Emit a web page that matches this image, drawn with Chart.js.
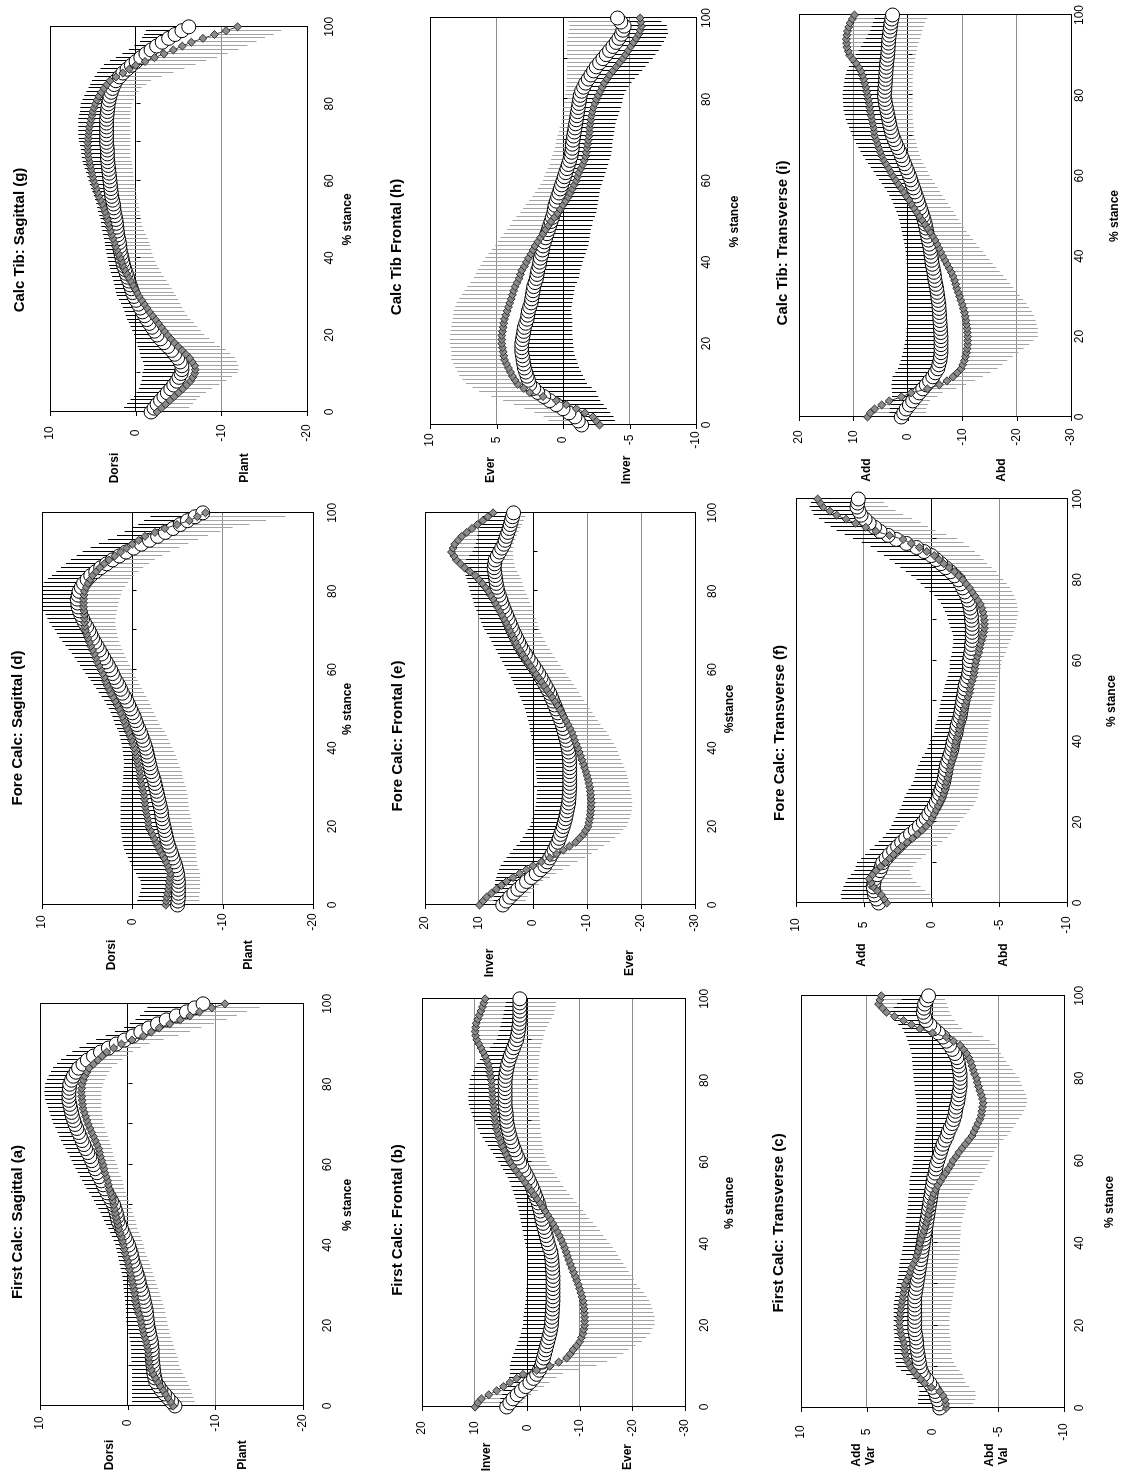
<!DOCTYPE html>
<html>
<head>
<meta charset="utf-8">
<title>Segment angles over stance</title>
<script src="https://cdn.jsdelivr.net/npm/chart.js@4.4.1/dist/chart.umd.min.js"></script>
<style>
  html, body { margin: 0; padding: 0; background: #fff; overflow: hidden; }
  #fig { position: absolute; left: 0; top: 0; width: 1479px; height: 1128px;
         transform-origin: 0 0; transform: translateY(1479px) rotate(-90deg); }
  #fig canvas { position: absolute; }
</style>
</head>
<body>
<div id="fig"></div>
<script>
// % stance, one sample per percent
const stance = [0,1,2,3,4,5,6,7,8,9,10,11,12,13,14,15,16,17,18,19,20,21,22,23,24,25,26,27,28,29,30,31,32,33,34,35,36,37,38,39,40,41,42,43,44,45,46,47,48,49,50,51,52,53,54,55,56,57,58,59,60,61,62,63,64,65,66,67,68,69,70,71,72,73,74,75,76,77,78,79,80,81,82,83,84,85,86,87,88,89,90,91,92,93,94,95,96,97,98,99,100];

// axis ranges: [min, max, step]
const sagAxis = [-20, 10, 10];
const wideAxis = [-30, 20, 10];
const narrowAxis = [-10, 10, 5];

// First Calc: Sagittal (a)
const aCirc = [-5.4,-5.0,-4.6,-4.2,-3.8,-3.5,-3.2,-3.1,-3.0,-2.95,-2.9,-2.85,-2.8,-2.8,-2.8,-2.75,-2.7,-2.6,-2.5,-2.4,-2.3,-2.25,-2.2,-2.15,-2.1,-2.0,-1.9,-1.8,-1.7,-1.55,-1.4,-1.3,-1.2,-1.05,-0.9,-0.75,-0.6,-0.5,-0.4,-0.25,-0.1,0.1,0.3,0.5,0.7,0.9,1.1,1.2,1.3,1.45,1.6,1.85,2.1,2.35,2.6,2.8,3.0,3.25,3.5,3.7,3.9,4.1,4.3,4.55,4.8,5.0,5.2,5.4,5.6,5.8,6.0,6.15,6.3,6.4,6.5,6.6,6.7,6.7,6.7,6.65,6.6,6.4,6.2,5.9,5.6,5.1,4.6,3.9,3.1,2.2,1.3,0.35,-0.6,-1.5,-2.4,-3.4,-4.4,-5.55,-6.7,-7.65,-8.6];
const aDiam = [-5.2,-4.9,-4.6,-4.3,-4.0,-3.7,-3.4,-3.15,-2.9,-2.7,-2.5,-2.45,-2.4,-2.35,-2.3,-2.2,-2.1,-1.95,-1.8,-1.7,-1.6,-1.5,-1.4,-1.25,-1.1,-1.0,-0.9,-0.85,-0.8,-0.7,-0.6,-0.5,-0.4,-0.3,-0.2,-0.1,0.0,0.15,0.3,0.4,0.5,0.6,0.7,0.85,1.0,1.1,1.2,1.3,1.4,1.5,1.6,1.7,1.8,1.95,2.1,2.2,2.3,2.45,2.6,2.7,2.8,2.95,3.1,3.2,3.3,3.5,3.7,3.9,4.1,4.3,4.5,4.65,4.8,4.95,5.1,5.15,5.2,5.25,5.3,5.25,5.2,5.05,4.9,4.65,4.4,3.9,3.4,2.9,2.4,1.6,0.7,-0.5,-1.8,-2.7,-3.6,-4.8,-6.0,-7.1,-8.2,-9.6,-11.1];
const aCircSd = [4.9,4.5,4.1,3.7,3.3,3.0,2.7,2.6,2.5,2.45,2.4,2.4,2.4,2.4,2.4,2.4,2.4,2.4,2.4,2.4,2.4,2.4,2.4,2.35,2.3,2.25,2.2,2.15,2.1,2.0,1.9,1.85,1.8,1.75,1.7,1.65,1.6,1.6,1.6,1.55,1.5,1.5,1.5,1.5,1.5,1.55,1.6,1.7,1.8,1.9,2.0,2.0,2.0,2.05,2.1,2.15,2.2,2.2,2.2,2.25,2.3,2.3,2.3,2.3,2.3,2.35,2.4,2.4,2.4,2.45,2.5,2.5,2.5,2.55,2.6,2.65,2.7,2.75,2.8,2.8,2.8,2.8,2.8,2.85,2.9,2.95,3.0,3.1,3.2,3.3,3.4,3.25,3.1,2.95,2.8,3.15,3.5,4.15,4.8,5.4,6.0];
const aDiamSd = [2.6,2.75,2.9,3.05,3.2,3.3,3.4,3.4,3.4,3.4,3.4,3.35,3.3,3.2,3.1,3.05,3.0,3.0,3.0,3.0,3.0,3.0,3.0,3.05,3.1,3.05,3.0,2.9,2.8,2.75,2.7,2.65,2.6,2.55,2.5,2.45,2.4,2.35,2.3,2.3,2.3,2.25,2.2,2.15,2.1,2.1,2.1,2.05,2.0,1.95,1.9,1.85,1.8,1.75,1.7,1.7,1.7,1.65,1.6,1.6,1.6,1.55,1.5,1.5,1.5,1.55,1.6,1.65,1.7,1.7,1.7,1.8,1.9,2.0,2.1,2.15,2.2,2.25,2.3,2.35,2.4,2.45,2.5,2.55,2.6,2.7,2.8,2.9,3.0,3.1,3.2,3.6,4.0,4.4,4.8,5.05,5.3,5.35,5.4,5.45,5.5];

// First Calc: Frontal (b)
const bCirc = [3.9,3.3,2.7,1.9,1.1,0.3,-0.5,-1.2,-1.8,-2.3,-2.7,-2.9,-3.1,-3.3,-3.5,-3.7,-3.9,-4.1,-4.3,-4.45,-4.6,-4.65,-4.7,-4.75,-4.8,-4.85,-4.9,-4.9,-4.9,-4.9,-4.9,-4.9,-4.9,-4.85,-4.8,-4.75,-4.7,-4.6,-4.5,-4.25,-4.0,-3.8,-3.6,-3.4,-3.2,-3.0,-2.8,-2.65,-2.5,-2.3,-2.1,-1.8,-1.5,-1.2,-0.9,-0.55,-0.2,0.2,0.6,1.0,1.4,1.75,2.1,2.4,2.7,2.95,3.2,3.4,3.6,3.75,3.9,3.95,4.0,4.1,4.2,4.2,4.2,4.2,4.2,4.2,4.2,4.1,4.0,3.85,3.7,3.45,3.2,2.9,2.6,2.3,2.0,1.85,1.7,1.6,1.5,1.45,1.4,1.4,1.4,1.4,1.4];
const bDiam = [9.9,9.4,8.7,7.3,5.8,4.5,3.3,2.0,0.8,-1.8,-4.3,-6.0,-7.5,-8.2,-8.7,-9.4,-10.0,-10.3,-10.6,-10.75,-10.9,-10.9,-10.9,-10.85,-10.8,-10.7,-10.6,-10.4,-10.2,-9.95,-9.7,-9.4,-9.1,-8.8,-8.5,-8.2,-7.9,-7.65,-7.4,-7.1,-6.8,-6.45,-6.1,-5.7,-5.3,-4.85,-4.4,-3.9,-3.4,-2.9,-2.4,-1.85,-1.3,-0.75,-0.2,0.4,1.0,1.6,2.2,2.75,3.3,3.7,4.1,4.45,4.8,5.1,5.4,5.6,5.8,5.95,6.1,6.2,6.3,6.35,6.4,6.5,6.6,6.65,6.7,6.75,6.8,6.95,7.1,7.25,7.4,7.7,8.0,8.4,8.8,9.2,9.6,9.8,9.9,9.8,9.7,9.4,9.1,8.8,8.5,8.25,8.0];
const bCircSd = [1.5,1.95,2.4,2.85,3.3,3.75,4.2,4.65,5.1,5.55,6.0,6.0,6.0,5.9,5.8,5.7,5.6,5.55,5.5,5.45,5.4,5.4,5.4,5.35,5.3,5.25,5.2,5.15,5.1,5.05,5.0,4.95,4.9,4.85,4.8,4.7,4.6,4.55,4.5,4.45,4.4,4.35,4.3,4.25,4.2,4.15,4.1,4.1,4.1,4.1,4.1,4.05,4.0,3.95,3.9,3.9,3.9,3.95,4.0,4.05,4.1,4.25,4.4,4.6,4.8,5.05,5.3,5.55,5.8,6.0,6.2,6.4,6.6,6.75,6.9,6.95,7.0,6.95,6.9,6.8,6.7,6.5,6.3,6.1,5.9,5.55,5.2,4.85,4.5,4.15,3.8,3.7,3.6,3.5,3.4,3.25,3.1,2.95,2.8,2.65,2.5];
const bDiamSd = [9.0,8.7,8.4,8.1,7.8,7.65,7.5,7.55,7.6,8.25,8.9,9.2,9.5,10.05,10.6,11.2,11.8,12.3,12.8,13.05,13.3,13.3,13.3,13.15,13.0,12.8,12.6,12.3,12.0,11.55,11.1,10.9,10.7,10.5,10.3,10.1,9.9,9.65,9.4,9.15,8.9,8.65,8.4,8.15,7.9,7.65,7.4,7.3,7.2,7.1,7.0,6.9,6.8,6.75,6.7,6.7,6.7,6.75,6.8,6.9,7.0,7.15,7.3,7.5,7.7,7.9,8.1,8.2,8.3,8.4,8.5,8.55,8.6,8.6,8.6,8.65,8.7,8.75,8.8,8.85,8.9,9.05,9.2,9.4,9.6,9.95,10.3,10.85,11.4,12.0,12.6,12.95,13.3,13.6,13.9,14.05,14.2,14.05,13.9,13.75,13.6];

// First Calc: Transverse (c)
const cCirc = [-0.55,-0.5,-0.4,-0.3,-0.2,0.0,0.2,0.45,0.7,0.85,0.95,1.0,1.05,1.1,1.15,1.2,1.2,1.25,1.3,1.35,1.35,1.35,1.35,1.35,1.35,1.35,1.35,1.35,1.3,1.25,1.2,1.15,1.1,1.05,1.0,0.95,0.9,0.85,0.8,0.75,0.7,0.65,0.6,0.55,0.5,0.45,0.4,0.35,0.3,0.25,0.2,0.15,0.1,0.05,0.0,-0.05,-0.1,-0.2,-0.25,-0.3,-0.4,-0.5,-0.6,-0.7,-0.8,-0.95,-1.1,-1.2,-1.35,-1.5,-1.6,-1.7,-1.75,-1.8,-1.9,-1.95,-2.0,-2.05,-2.1,-2.1,-2.1,-2.1,-2.05,-2.0,-1.95,-1.85,-1.7,-1.5,-1.3,-1.05,-0.8,-0.45,-0.1,0.2,0.5,0.6,0.7,0.65,0.6,0.45,0.3];
const cDiam = [-1.05,-1.0,-0.95,-0.8,-0.55,0.1,0.6,0.9,1.2,1.45,1.7,1.85,2.0,2.05,2.1,2.15,2.2,2.3,2.4,2.45,2.5,2.5,2.5,2.45,2.4,2.35,2.3,2.25,2.2,2.15,2.1,1.95,1.8,1.7,1.6,1.45,1.3,1.2,1.1,1.0,0.95,0.85,0.75,0.65,0.55,0.45,0.35,0.3,0.2,0.15,0.1,0.0,-0.1,-0.25,-0.4,-0.6,-0.8,-1.0,-1.2,-1.4,-1.55,-1.8,-2.0,-2.25,-2.5,-2.75,-3.0,-3.15,-3.3,-3.45,-3.6,-3.7,-3.75,-3.8,-3.85,-3.8,-3.7,-3.6,-3.5,-3.4,-3.35,-3.2,-3.1,-3.0,-2.9,-2.75,-2.6,-2.35,-2.1,-1.6,-1.05,0.0,0.95,1.6,2.2,2.9,3.5,3.8,4.1,4.0,3.9];
const cCircSd = [1.75,1.6,1.5,1.35,1.2,1.1,1.0,1.15,1.3,1.55,1.8,1.8,1.8,1.8,1.8,1.75,1.7,1.65,1.6,1.6,1.6,1.6,1.6,1.6,1.6,1.6,1.55,1.5,1.5,1.5,1.5,1.5,1.5,1.5,1.55,1.55,1.55,1.5,1.5,1.5,1.5,1.5,1.5,1.5,1.55,1.6,1.6,1.6,1.6,1.6,1.65,1.7,1.7,1.7,1.75,1.8,1.8,1.8,1.8,1.8,1.85,1.9,2.0,2.1,2.2,2.3,2.4,2.5,2.6,2.7,2.8,2.9,2.95,3.0,3.1,3.2,3.3,3.4,3.45,3.5,3.55,3.55,3.55,3.5,3.5,3.4,3.3,3.2,3.1,2.95,2.8,2.6,2.4,2.4,2.4,2.45,2.5,2.3,2.1,1.9,1.7];
const cDiamSd = [1.9,2.1,2.3,2.5,2.7,2.9,3.1,3.3,3.5,3.5,3.5,3.5,3.5,3.5,3.5,3.55,3.6,3.65,3.7,3.75,3.8,3.8,3.8,3.8,3.8,3.8,3.8,3.8,3.8,3.8,3.8,3.7,3.6,3.55,3.5,3.4,3.3,3.25,3.2,3.1,3.05,2.95,2.9,2.8,2.7,2.7,2.65,2.7,2.7,2.7,2.7,2.7,2.75,2.8,2.8,2.8,2.8,2.8,2.8,2.8,2.8,2.75,2.7,2.65,2.6,2.65,2.7,2.8,2.85,2.9,3.0,3.1,3.2,3.3,3.35,3.4,3.4,3.35,3.3,3.3,3.25,3.1,3.0,2.85,2.7,2.65,2.6,2.65,2.7,2.75,2.8,3.0,3.2,3.55,3.9,4.35,4.8,5.0,5.2,4.95,4.7];

// Fore Calc: Sagittal (d)
const dCirc = [-5.0,-5.05,-5.1,-5.1,-5.1,-5.1,-5.1,-5.05,-5.0,-4.9,-4.8,-4.65,-4.5,-4.35,-4.2,-4.05,-3.9,-3.8,-3.7,-3.6,-3.5,-3.4,-3.3,-3.25,-3.2,-3.1,-3.0,-2.9,-2.8,-2.7,-2.6,-2.5,-2.4,-2.25,-2.1,-2.0,-1.9,-1.8,-1.7,-1.6,-1.5,-1.35,-1.2,-1.05,-0.9,-0.7,-0.5,-0.35,-0.2,0.0,0.2,0.4,0.6,0.85,1.1,1.3,1.5,1.75,2.0,2.2,2.4,2.65,2.9,3.15,3.4,3.65,3.9,4.15,4.4,4.6,4.8,5.05,5.3,5.5,5.7,5.85,6.0,6.05,6.1,6.0,5.9,5.65,5.4,5.0,4.6,4.05,3.5,2.85,2.2,1.45,0.7,-0.15,-1.0,-1.9,-2.8,-3.65,-4.5,-5.3,-6.1,-6.95,-7.8];
const dDiam = [-3.7,-3.75,-3.8,-3.9,-4.0,-4.05,-4.1,-4.15,-4.2,-4.05,-3.9,-3.7,-3.5,-3.25,-3.0,-2.8,-2.6,-2.4,-2.2,-2.0,-1.8,-1.75,-1.7,-1.6,-1.5,-1.45,-1.4,-1.35,-1.3,-1.2,-1.1,-1.0,-0.9,-0.85,-0.8,-0.7,-0.6,-0.5,-0.4,-0.3,-0.2,-0.05,0.1,0.25,0.4,0.6,0.8,0.95,1.1,1.3,1.5,1.7,1.9,2.15,2.4,2.6,2.8,2.95,3.1,3.3,3.5,3.7,3.9,4.05,4.2,4.4,4.6,4.75,4.9,5.05,5.2,5.25,5.3,5.3,5.3,5.35,5.4,5.4,5.4,5.35,5.3,5.1,4.9,4.65,4.4,4.0,3.6,3.1,2.6,1.95,1.3,0.65,0.0,-0.7,-1.4,-2.5,-3.6,-4.95,-6.3,-7.2,-8.1];
const dCircSd = [4.6,4.5,4.4,4.25,4.1,4.15,4.2,4.4,4.6,4.75,4.9,4.95,5.0,5.05,5.1,5.05,5.0,4.95,4.9,4.85,4.8,4.7,4.6,4.55,4.5,4.4,4.3,4.15,4.0,3.85,3.7,3.55,3.4,3.25,3.1,2.95,2.8,2.75,2.7,2.65,2.6,2.55,2.5,2.45,2.4,2.4,2.4,2.4,2.4,2.4,2.4,2.45,2.5,2.55,2.6,2.7,2.8,2.85,2.9,3.0,3.1,3.15,3.2,3.25,3.3,3.4,3.5,3.6,3.7,3.75,3.8,3.85,3.9,3.9,3.9,4.05,4.2,4.3,4.4,4.4,4.4,4.4,4.4,4.35,4.3,4.35,4.4,4.5,4.6,4.7,4.8,4.75,4.7,4.6,4.5,4.5,4.5,4.65,4.8,4.95,5.1];
const dDiamSd = [3.7,3.65,3.6,3.55,3.5,3.45,3.4,3.35,3.3,3.3,3.3,3.45,3.6,3.8,4.0,4.2,4.4,4.5,4.6,4.7,4.8,4.8,4.8,4.8,4.8,4.8,4.8,4.8,4.8,4.8,4.8,4.75,4.7,4.7,4.7,4.6,4.5,4.45,4.4,4.3,4.2,4.15,4.1,4.05,4.0,3.9,3.8,3.75,3.7,3.7,3.7,3.7,3.7,3.7,3.7,3.65,3.6,3.55,3.5,3.5,3.5,3.45,3.4,3.35,3.3,3.3,3.3,3.3,3.3,3.35,3.4,3.4,3.4,3.45,3.5,3.65,3.8,3.9,4.0,4.1,4.2,4.3,4.4,4.5,4.6,4.7,4.8,4.95,5.1,5.3,5.5,5.85,6.2,6.6,7.0,7.25,7.5,8.0,8.5,9.75,11.0];

// Fore Calc: Frontal (e)
const eCirc = [5.6,4.95,4.3,3.55,2.8,2.0,1.2,0.3,-0.6,-1.4,-2.2,-2.65,-3.1,-3.5,-3.9,-4.25,-4.6,-4.85,-5.1,-5.35,-5.6,-5.8,-6.0,-6.15,-6.3,-6.45,-6.6,-6.65,-6.7,-6.75,-6.8,-6.8,-6.8,-6.8,-6.8,-6.8,-6.8,-6.75,-6.7,-6.6,-6.5,-6.35,-6.2,-6.0,-5.8,-5.6,-5.4,-5.15,-4.9,-4.6,-4.3,-4.0,-3.7,-3.4,-3.1,-2.7,-2.3,-1.9,-1.5,-1.05,-0.6,-0.1,0.4,0.9,1.4,1.85,2.3,2.65,3.0,3.35,3.7,4.0,4.3,4.6,4.9,5.2,5.5,5.75,6.0,6.25,6.5,6.65,6.8,6.9,7.0,7.1,7.2,7.1,7.0,6.6,6.2,5.8,5.4,5.15,4.9,4.65,4.4,4.2,4.0,3.8,3.6];
const eDiam = [9.9,9.25,8.6,7.7,6.8,5.85,4.9,3.7,2.5,1.25,0.0,-1.55,-3.1,-4.35,-5.6,-6.75,-7.9,-8.6,-9.3,-9.75,-10.2,-10.35,-10.5,-10.6,-10.7,-10.75,-10.8,-10.75,-10.7,-10.6,-10.5,-10.35,-10.2,-10.0,-9.8,-9.55,-9.3,-9.05,-8.8,-8.55,-8.3,-8.0,-7.7,-7.45,-7.2,-6.85,-6.5,-6.1,-5.7,-5.3,-4.9,-4.45,-4.0,-3.5,-3.0,-2.5,-2.0,-1.5,-1.0,-0.5,0.0,0.5,1.0,1.5,2.0,2.45,2.9,3.25,3.6,3.95,4.3,4.65,5.0,5.4,5.8,6.2,6.6,7.0,7.4,7.85,8.3,8.85,9.4,10.05,10.7,11.7,12.7,13.45,14.2,14.65,15.1,14.8,14.5,13.85,13.2,12.25,11.3,10.3,9.3,8.35,7.4];
const eCircSd = [1.8,2.35,2.9,3.6,4.3,5.05,5.8,6.5,7.2,7.7,8.2,8.1,8.0,7.8,7.6,7.3,7.0,6.75,6.5,6.35,6.2,6.15,6.1,6.05,6.0,6.0,6.0,6.0,6.0,6.0,6.0,6.05,6.1,6.15,6.2,6.25,6.3,6.35,6.4,6.45,6.5,6.45,6.4,6.35,6.3,6.2,6.1,6.05,6.0,5.9,5.8,5.8,5.8,5.85,5.9,5.85,5.8,5.7,5.6,5.55,5.5,5.4,5.3,5.2,5.1,5.05,5.0,5.05,5.1,5.2,5.3,5.3,5.3,5.3,5.3,5.3,5.3,5.25,5.2,5.2,5.2,5.25,5.3,5.4,5.5,5.55,5.6,5.5,5.4,5.2,5.0,5.1,5.2,5.3,5.4,5.45,5.5,5.5,5.5,5.5,5.5];
const eDiamSd = [8.2,7.9,7.6,7.3,7.0,6.9,6.8,6.8,6.8,6.8,6.8,6.7,6.6,6.5,6.4,6.4,6.4,6.6,6.8,6.95,7.1,7.25,7.4,7.5,7.6,7.6,7.6,7.55,7.5,7.45,7.4,7.4,7.4,7.4,7.4,7.35,7.3,7.25,7.2,7.15,7.1,6.95,6.8,6.6,6.4,6.2,6.0,5.9,5.8,5.7,5.6,5.55,5.5,5.5,5.5,5.55,5.6,5.6,5.6,5.6,5.6,5.6,5.6,5.6,5.6,5.55,5.5,5.5,5.5,5.5,5.5,5.65,5.8,5.95,6.1,6.25,6.4,6.5,6.6,6.7,6.8,7.1,7.4,7.8,8.2,8.8,9.4,10.0,10.6,11.0,11.4,11.2,11.0,10.6,10.2,9.6,9.0,8.3,7.6,6.9,6.2];

// Fore Calc: Transverse (f)
const fCirc = [3.9,4.05,4.2,4.25,4.3,4.25,4.2,4.0,3.8,3.7,3.6,3.35,3.1,2.8,2.5,2.2,1.9,1.55,1.2,0.9,0.6,0.4,0.2,0.0,-0.2,-0.35,-0.5,-0.6,-0.7,-0.8,-0.9,-0.95,-1.0,-1.05,-1.1,-1.2,-1.3,-1.4,-1.5,-1.55,-1.6,-1.7,-1.8,-1.85,-1.9,-2.0,-2.1,-2.15,-2.2,-2.25,-2.3,-2.35,-2.4,-2.45,-2.5,-2.6,-2.7,-2.75,-2.8,-2.8,-2.8,-2.85,-2.9,-2.95,-2.95,-3.0,-3.0,-3.0,-3.0,-3.0,-2.95,-2.95,-2.9,-2.85,-2.8,-2.7,-2.6,-2.45,-2.3,-2.15,-2.0,-1.7,-1.4,-1.05,-0.7,-0.35,0.0,0.55,1.1,1.85,2.6,3.2,3.8,4.2,4.6,4.9,5.2,5.35,5.5,5.45,5.4];
const fDiam = [3.3,3.5,3.7,4.0,4.3,4.45,4.6,4.35,4.1,3.75,3.4,3.1,2.8,2.5,2.2,1.8,1.4,1.05,0.7,0.4,0.1,-0.05,-0.2,-0.35,-0.5,-0.65,-0.8,-0.9,-1.0,-1.05,-1.1,-1.2,-1.3,-1.35,-1.4,-1.5,-1.6,-1.65,-1.7,-1.75,-1.8,-1.9,-2.0,-2.05,-2.1,-2.2,-2.3,-2.35,-2.4,-2.5,-2.6,-2.7,-2.8,-2.85,-2.9,-3.0,-3.1,-3.15,-3.2,-3.25,-3.3,-3.4,-3.5,-3.55,-3.6,-3.7,-3.8,-3.85,-3.9,-3.9,-3.9,-3.85,-3.8,-3.7,-3.6,-3.4,-3.2,-3.0,-2.8,-2.55,-2.3,-2.0,-1.7,-1.3,-0.9,-0.55,-0.2,0.35,0.9,1.5,2.1,3.1,4.1,4.85,5.6,6.3,7.0,7.5,8.0,8.2,8.4];
const fCircSd = [2.7,2.6,2.5,2.35,2.2,2.1,2.0,1.95,1.9,1.9,1.9,1.85,1.8,1.75,1.7,1.7,1.7,1.8,1.9,2.05,2.2,2.25,2.3,2.35,2.4,2.45,2.5,2.45,2.4,2.3,2.25,2.2,2.2,2.15,2.1,2.05,2.0,1.9,1.8,1.75,1.7,1.65,1.6,1.6,1.6,1.6,1.6,1.6,1.6,1.6,1.6,1.55,1.55,1.5,1.5,1.5,1.5,1.5,1.45,1.45,1.45,1.4,1.4,1.4,1.35,1.4,1.4,1.5,1.6,1.7,1.75,1.8,1.9,2.0,2.1,2.25,2.4,2.6,2.8,2.95,3.1,3.2,3.3,3.35,3.4,3.45,3.5,3.45,3.4,3.3,3.2,3.2,3.2,3.25,3.3,3.4,3.5,3.5,3.5,3.45,3.4];
const fDiamSd = [3.7,3.65,3.6,3.55,3.5,3.35,3.2,2.85,2.5,2.4,2.3,2.35,2.4,2.5,2.6,2.6,2.6,2.5,2.4,2.3,2.2,2.3,2.4,2.5,2.6,2.6,2.6,2.55,2.5,2.5,2.5,2.45,2.4,2.35,2.3,2.3,2.3,2.3,2.3,2.3,2.3,2.25,2.2,2.15,2.1,2.1,2.1,2.05,2.0,2.0,2.0,1.95,1.9,1.85,1.8,1.8,1.8,1.85,1.9,1.9,1.9,1.95,2.0,2.05,2.1,2.15,2.2,2.25,2.3,2.35,2.4,2.5,2.6,2.65,2.7,2.8,2.9,2.95,3.0,3.0,3.0,3.05,3.1,3.15,3.2,3.3,3.4,3.55,3.7,3.85,4.0,4.2,4.4,4.6,4.8,4.85,4.9,4.85,4.8,4.7,4.6];

// Calc Tib: Sagittal (g)
const gCirc = [-1.8,-2.15,-2.5,-2.9,-3.3,-3.7,-4.1,-4.45,-4.8,-5.05,-5.3,-5.4,-5.4,-5.2,-4.9,-4.55,-4.2,-3.75,-3.3,-2.9,-2.5,-2.2,-1.9,-1.6,-1.3,-1.05,-0.8,-0.55,-0.3,-0.05,0.2,0.35,0.5,0.65,0.8,0.95,1.1,1.25,1.4,1.5,1.6,1.7,1.8,1.85,1.9,2.0,2.1,2.15,2.2,2.25,2.3,2.4,2.5,2.55,2.6,2.7,2.8,2.85,2.9,2.95,3.0,3.05,3.1,3.15,3.2,3.25,3.3,3.3,3.3,3.35,3.4,3.4,3.4,3.4,3.4,3.4,3.4,3.35,3.3,3.25,3.2,3.1,3.0,2.85,2.7,2.5,2.3,1.9,1.5,1.0,0.5,-0.05,-0.6,-1.2,-1.8,-2.45,-3.1,-3.85,-4.6,-5.4,-6.2];
const gDiam = [-2.5,-3.0,-3.5,-4.0,-4.5,-5.0,-5.5,-5.95,-6.4,-6.65,-6.9,-6.95,-6.9,-6.6,-6.3,-5.85,-5.4,-4.95,-4.5,-4.1,-3.7,-3.35,-3.0,-2.65,-2.3,-1.95,-1.6,-1.3,-1.0,-0.7,-0.4,-0.15,0.1,0.35,0.6,0.85,1.1,1.3,1.5,1.65,1.8,2.0,2.2,2.35,2.5,2.65,2.8,2.95,3.1,3.2,3.3,3.45,3.6,3.75,3.9,4.1,4.3,4.45,4.6,4.75,4.9,5.0,5.1,5.2,5.3,5.4,5.5,5.55,5.6,5.6,5.6,5.55,5.5,5.45,5.4,5.3,5.2,5.1,5.0,4.85,4.7,4.5,4.3,4.0,3.7,3.35,3.0,2.3,1.5,0.75,0.0,-1.1,-2.2,-3.3,-4.4,-5.45,-6.5,-7.85,-9.2,-10.55,-11.9];
const gCircSd = [3.5,3.5,3.5,3.5,3.5,3.6,3.7,3.9,4.1,4.3,4.5,4.45,4.4,4.35,4.3,4.05,3.8,3.5,3.2,2.95,2.7,2.6,2.5,2.4,2.3,2.2,2.1,2.05,2.0,2.0,2.0,1.95,1.9,1.85,1.8,1.8,1.8,1.75,1.7,1.7,1.7,1.7,1.7,1.7,1.7,1.7,1.7,1.75,1.8,1.8,1.8,1.85,1.9,1.95,2.0,2.05,2.1,2.2,2.3,2.4,2.5,2.6,2.7,2.8,2.9,2.95,3.0,3.05,3.1,3.15,3.2,3.25,3.3,3.3,3.3,3.3,3.3,3.25,3.2,3.2,3.2,3.1,3.0,2.9,2.8,2.8,2.8,2.9,3.0,3.1,3.2,3.05,2.9,2.75,2.6,2.6,2.6,3.1,3.6,4.2,4.8];
const gDiamSd = [3.3,3.25,3.2,3.1,3.0,3.2,3.4,3.8,4.2,4.6,5.0,5.05,5.1,5.2,5.3,5.2,5.1,4.9,4.7,4.5,4.3,4.25,4.2,4.15,4.1,4.1,4.1,4.15,4.2,4.25,4.3,4.3,4.3,4.25,4.2,4.15,4.1,4.05,4.0,3.95,3.9,3.95,4.0,4.05,4.1,4.05,4.0,3.95,3.9,3.9,3.9,4.0,4.1,4.15,4.2,4.3,4.4,4.5,4.6,4.65,4.7,4.75,4.8,4.85,4.9,4.9,4.9,4.95,5.0,5.0,5.0,4.95,4.9,4.85,4.8,4.7,4.6,4.5,4.4,4.35,4.3,4.3,4.3,4.35,4.4,4.6,4.8,5.35,5.9,6.45,7.0,7.15,7.3,7.45,7.6,7.6,7.6,7.25,6.9,6.45,6.0];

// Calc Tib Frontal (h)
const hCirc = [-1.4,-1.15,-0.9,-0.45,0.0,0.5,1.0,1.45,1.9,2.2,2.5,2.6,2.7,2.8,2.9,2.95,3.0,3.05,3.1,3.1,3.1,3.05,3.0,2.95,2.9,2.8,2.7,2.65,2.6,2.5,2.4,2.35,2.3,2.25,2.2,2.1,2.0,1.95,1.9,1.8,1.75,1.7,1.6,1.55,1.5,1.4,1.3,1.2,1.1,1.0,0.9,0.8,0.7,0.65,0.6,0.5,0.4,0.3,0.2,0.1,0.0,-0.1,-0.2,-0.3,-0.4,-0.5,-0.6,-0.65,-0.7,-0.7,-0.75,-0.8,-0.85,-0.9,-0.95,-1.0,-1.05,-1.1,-1.15,-1.2,-1.25,-1.3,-1.4,-1.55,-1.7,-1.9,-2.1,-2.3,-2.5,-2.75,-3.0,-3.25,-3.5,-3.75,-4.0,-4.2,-4.4,-4.5,-4.6,-4.35,-4.1];
const hDiam = [-2.75,-2.5,-2.25,-1.65,-1.0,-0.25,0.5,1.5,2.5,2.95,3.4,3.6,3.8,3.95,4.1,4.25,4.4,4.45,4.5,4.55,4.6,4.6,4.6,4.55,4.5,4.45,4.4,4.3,4.2,4.1,4.0,3.9,3.8,3.7,3.6,3.45,3.3,3.2,3.1,2.9,2.75,2.6,2.4,2.25,2.1,1.9,1.7,1.5,1.3,1.1,0.9,0.65,0.4,0.2,0.0,-0.2,-0.4,-0.55,-0.7,-0.85,-1.0,-1.1,-1.2,-1.35,-1.5,-1.6,-1.7,-1.75,-1.8,-1.85,-1.9,-1.95,-2.0,-2.0,-2.05,-2.1,-2.15,-2.2,-2.3,-2.4,-2.5,-2.65,-2.8,-2.95,-3.1,-3.3,-3.5,-3.75,-4.0,-4.25,-4.5,-4.7,-4.9,-5.1,-5.3,-5.5,-5.7,-5.8,-5.9,-5.85,-5.8];
const hCircSd = [2.6,2.75,2.9,3.1,3.3,3.55,3.8,4.1,4.4,4.35,4.3,4.25,4.2,4.15,4.1,4.05,4.0,3.95,3.9,3.9,3.85,3.8,3.7,3.65,3.6,3.5,3.4,3.3,3.2,3.15,3.1,3.1,3.1,3.1,3.1,3.15,3.2,3.2,3.2,3.2,3.25,3.3,3.3,3.35,3.4,3.35,3.3,3.25,3.2,3.2,3.15,3.2,3.2,3.2,3.2,3.15,3.1,3.05,3.0,3.0,3.0,3.0,3.0,3.0,3.0,3.0,3.0,3.0,3.0,3.0,3.0,3.0,3.0,3.0,3.0,3.05,3.1,3.15,3.2,3.25,3.25,3.3,3.35,3.4,3.45,3.5,3.6,3.65,3.7,3.7,3.75,3.7,3.7,3.65,3.6,3.55,3.5,3.35,3.2,3.05,2.9];
const hDiamSd = [3.5,3.6,3.7,3.8,3.9,3.95,4.0,3.9,3.8,3.85,3.9,3.95,4.0,4.0,4.0,4.0,4.0,3.95,3.9,3.9,3.9,3.9,3.9,3.9,3.9,3.9,3.9,3.95,4.0,4.0,4.0,3.9,3.8,3.7,3.6,3.5,3.4,3.35,3.3,3.3,3.3,3.25,3.2,3.1,3.0,3.0,3.0,2.95,2.9,2.9,2.9,2.85,2.8,2.8,2.8,2.75,2.7,2.65,2.6,2.55,2.5,2.5,2.5,2.5,2.5,2.5,2.5,2.45,2.4,2.4,2.4,2.35,2.3,2.25,2.2,2.2,2.2,2.25,2.3,2.35,2.4,2.5,2.6,2.7,2.8,3.0,3.2,3.45,3.7,3.95,4.2,4.4,4.6,4.8,5.0,5.15,5.3,5.35,5.4,5.45,5.5];

// Calc Tib: Transverse (i)
const iCirc = [1.2,0.75,0.3,-0.3,-0.9,-1.5,-2.1,-2.75,-3.4,-4.0,-4.6,-5.05,-5.5,-5.7,-5.9,-6.0,-6.1,-6.1,-6.1,-6.1,-6.1,-6.05,-6.0,-5.95,-5.9,-5.85,-5.8,-5.75,-5.7,-5.6,-5.5,-5.4,-5.3,-5.15,-5.0,-4.9,-4.8,-4.65,-4.5,-4.4,-4.3,-4.2,-4.1,-3.95,-3.8,-3.65,-3.5,-3.35,-3.2,-3.0,-2.8,-2.55,-2.3,-2.05,-1.8,-1.55,-1.3,-1.05,-0.8,-0.55,-0.3,0.0,0.3,0.6,0.9,1.2,1.5,1.85,2.2,2.5,2.8,3.0,3.2,3.35,3.5,3.65,3.8,3.95,4.1,4.2,4.3,4.25,4.2,4.15,4.1,4.05,4.0,3.95,3.9,3.8,3.7,3.65,3.6,3.55,3.5,3.4,3.3,3.2,3.1,2.95,2.8];
const iDiam = [7.4,6.9,6.1,4.8,3.4,1.2,-0.6,-3.6,-5.8,-7.2,-8.3,-9.1,-9.8,-10.1,-10.4,-10.6,-10.8,-10.9,-11.0,-11.0,-11.0,-10.95,-10.9,-10.8,-10.7,-10.55,-10.4,-10.2,-10.0,-9.75,-9.5,-9.25,-9.0,-8.8,-8.6,-8.3,-8.0,-7.6,-7.2,-6.8,-6.4,-6.05,-5.7,-5.35,-5.0,-4.55,-4.1,-3.6,-3.1,-2.6,-2.1,-1.6,-1.1,-0.65,-0.2,0.3,0.8,1.3,1.8,2.3,2.8,3.2,3.6,4.05,4.5,4.8,5.1,5.35,5.6,5.85,6.1,6.2,6.3,6.45,6.6,6.75,6.9,7.0,7.1,7.25,7.4,7.55,7.7,7.9,8.1,8.35,8.6,9.05,9.5,10.1,10.7,10.95,11.2,11.25,11.3,11.2,11.1,10.85,10.6,10.2,9.8];
const iCircSd = [2.2,2.6,3.0,3.4,3.8,4.4,5.0,5.7,6.4,6.9,7.4,7.35,7.3,7.25,7.2,7.1,7.0,6.85,6.7,6.55,6.4,6.3,6.2,6.05,5.9,5.8,5.7,5.65,5.6,5.55,5.5,5.35,5.2,5.1,5.0,4.9,4.8,4.75,4.7,4.65,4.6,4.6,4.6,4.6,4.6,4.6,4.6,4.6,4.6,4.6,4.6,4.65,4.7,4.75,4.8,4.95,5.1,5.35,5.6,5.85,6.1,6.3,6.5,6.7,6.9,7.05,7.2,7.25,7.3,7.35,7.4,7.5,7.6,7.75,7.9,7.95,8.0,7.9,7.8,7.75,7.7,7.65,7.6,7.55,7.5,7.35,7.2,6.9,6.6,6.2,5.8,5.4,5.0,4.6,4.2,3.9,3.6,3.45,3.3,3.15,3.0];
const iDiamSd = [11.0,10.25,9.5,8.5,7.5,6.65,5.8,5.35,4.9,5.2,5.5,6.1,6.7,7.3,7.9,8.7,9.5,10.4,11.3,12.1,12.9,12.95,13.0,12.9,12.8,12.6,12.4,12.1,11.8,11.45,11.1,10.75,10.4,10.0,9.6,9.25,8.9,8.65,8.4,8.2,8.0,7.75,7.5,7.25,7.0,6.85,6.7,6.7,6.7,6.75,6.8,6.8,6.8,6.75,6.7,6.7,6.7,6.75,6.8,6.8,6.8,6.85,6.9,6.95,7.0,7.05,7.1,7.15,7.2,7.25,7.3,7.35,7.4,7.45,7.5,7.65,7.8,7.9,8.0,8.15,8.3,8.45,8.6,8.8,9.0,9.3,9.6,10.2,10.8,11.5,12.2,12.6,13.0,13.3,13.6,13.7,13.8,13.8,13.8,13.8,13.8];

// minor ticks on the zero line
const stanceTicks = [10, 20, 30, 40, 50, 60, 70, 80, 90];

const panels = [
  { key: 'a', title: 'First Calc: Sagittal (a)', xTitle: '% stance', axis: sagAxis, circ: aCirc, circSd: aCircSd, diam: aDiam, diamSd: aDiamSd, circDir: 1, side: ['Dorsi', 'Plant'] },
  { key: 'b', title: 'First Calc: Frontal (b)', xTitle: '% stance', axis: wideAxis, circ: bCirc, circSd: bCircSd, diam: bDiam, diamSd: bDiamSd, circDir: 1, side: ['Inver', 'Ever'] },
  { key: 'c', title: 'First Calc: Transverse (c)', xTitle: '% stance', axis: narrowAxis, circ: cCirc, circSd: cCircSd, diam: cDiam, diamSd: cDiamSd, circDir: 1, side: ['Add', 'Var', 'Abd', 'Val'] },
  { key: 'd', title: 'Fore Calc: Sagittal (d)', xTitle: '% stance', axis: sagAxis, circ: dCirc, circSd: dCircSd, diam: dDiam, diamSd: dDiamSd, circDir: 1, side: ['Dorsi', 'Plant'] },
  { key: 'e', title: 'Fore Calc: Frontal (e)', xTitle: '%stance', axis: wideAxis, circ: eCirc, circSd: eCircSd, diam: eDiam, diamSd: eDiamSd, circDir: 1, side: ['Inver', 'Ever'] },
  { key: 'f', title: 'Fore Calc: Transverse (f)', xTitle: '% stance', axis: narrowAxis, circ: fCirc, circSd: fCircSd, diam: fDiam, diamSd: fDiamSd, circDir: 1, side: ['Add', 'Abd'] },
  { key: 'g', title: 'Calc Tib: Sagittal (g)', xTitle: '% stance', axis: sagAxis, circ: gCirc, circSd: gCircSd, diam: gDiam, diamSd: gDiamSd, circDir: 1, side: ['Dorsi', 'Plant'] },
  { key: 'h', title: 'Calc Tib Frontal (h)', xTitle: '% stance', axis: narrowAxis, circ: hCirc, circSd: hCircSd, diam: hDiam, diamSd: hDiamSd, circDir: -1, side: ['Ever', 'Inver'] },
  { key: 'i', title: 'Calc Tib: Transverse (i)', xTitle: '% stance', axis: wideAxis, circ: iCirc, circSd: iCircSd, diam: iDiam, diamSd: iDiamSd, circDir: 1, side: ['Add', 'Abd'] }
];

// layout in the unrotated figure (1479 x 1128); the whole figure is turned a quarter left
const geo = {
  a: { left: 73,   top: 40,  w: 416, h: 263, tx: 257,  ty: 18,  yGap: 17, xGap: 25, tGap: 45, side: [[24, 110], [24, 243]] },
  b: { left: 72,   top: 422, w: 417, h: 263, tx: 259,  ty: 398, yGap: 21, xGap: 20, tGap: 45, side: [[22, 487], [22, 628]] },
  c: { left: 71,   top: 801, w: 417, h: 263, tx: 256,  ty: 779, yGap: 24, xGap: 16, tGap: 46, side: [[24, 857], [23, 871], [24, 990], [23, 1004]] },
  d: { left: 574,  top: 42,  w: 401, h: 271, tx: 751,  ty: 18,  yGap: 17, xGap: 20, tGap: 35, side: [[524, 112], [524, 249]] },
  e: { left: 574,  top: 425, w: 399, h: 270, tx: 743,  ty: 398, yGap: 18, xGap: 18, tGap: 35, side: [[516, 490], [516, 630]] },
  f: { left: 576,  top: 796, w: 404, h: 271, tx: 746,  ty: 780, yGap: 22, xGap: 11, tGap: 45, side: [[524, 862], [524, 1004]] },
  g: { left: 1067, top: 50,  w: 397, h: 257, tx: 1239, ty: 20,  yGap: 21, xGap: 23, tGap: 41, side: [[1011, 115], [1011, 245]] },
  h: { left: 1054, top: 430, w: 407, h: 266, tx: 1232, ty: 397, yGap: 15, xGap: 11, tGap: 39, side: [[1009, 491], [1009, 627]] },
  i: { left: 1062, top: 799, w: 402, h: 272, tx: 1236, ty: 783, yGap: 20, xGap: 9,  tGap: 44, side: [[1009, 867], [1009, 1002]] }
};

const PAD_L = 85, PAD_T = 45, PAD_R = 14, PAD_B = 60;
const FONT = '"Liberation Sans", Arial, Helvetica, sans-serif';

Chart.defaults.font.family = FONT;
Chart.defaults.font.size = 12;
Chart.defaults.color = '#000';

const byKey = {};
panels.forEach(p => { byKey[p.key] = p; });

// error bars, frame, zero-line ticks, title and side words
const panelDecor = {
  id: 'panelDecor',
  beforeDatasetsDraw(chart, args, opts) {
    const { ctx, chartArea: a, scales: { x, y } } = chart;
    ctx.save();
    ctx.beginPath();
    ctx.rect(a.left, a.top, a.right - a.left, a.bottom - a.top);
    ctx.clip();
    ctx.lineWidth = 1;
    [1, 0].forEach(di => {
      const ds = chart.data.datasets[di];
      ctx.strokeStyle = ds.errColor;
      ctx.beginPath();
      ds.data.forEach((pt, i) => {
        const px = Math.round(x.getPixelForValue(pt.x)) + 0.5;
        ctx.moveTo(px, y.getPixelForValue(pt.y));
        ctx.lineTo(px, y.getPixelForValue(pt.y + ds.errDir * ds.errSd[i]));
      });
      ctx.stroke();
    });
    ctx.restore();

    ctx.save();
    ctx.strokeStyle = '#000';
    ctx.lineWidth = 1;
    ctx.strokeRect(Math.round(a.left) + 0.5, Math.round(a.top) + 0.5,
                   Math.round(a.right - a.left), Math.round(a.bottom - a.top));
    const y0 = Math.round(y.getPixelForValue(0)) + 0.5;
    ctx.beginPath();
    stanceTicks.forEach(s => {
      const px = Math.round(x.getPixelForValue(s)) + 0.5;
      ctx.moveTo(px, y0);
      ctx.lineTo(px, y0 + 4);
    });
    y.ticks.forEach(t => {
      const py = Math.round(y.getPixelForValue(t.value)) + 0.5;
      ctx.moveTo(a.left - 4, py);
      ctx.lineTo(a.left, py);
    });
    ctx.stroke();
    ctx.restore();
  },
  afterDraw(chart, args, opts) {
    const p = byKey[opts.key];
    const g = geo[opts.key];
    const ctx = chart.ctx;
    const ox = g.left - PAD_L, oy = g.top - PAD_T;
    ctx.save();
    ctx.fillStyle = '#000';
    ctx.textAlign = 'center';
    ctx.textBaseline = 'middle';
    ctx.font = 'bold 15px ' + FONT;
    ctx.fillText(p.title, g.tx - ox, g.ty - oy);
    ctx.font = 'bold 12px ' + FONT;
    p.side.forEach((word, k) => {
      ctx.fillText(word, g.side[k][0] - ox, g.side[k][1] - oy);
    });
    ctx.restore();
  }
};

const fig = document.getElementById('fig');

panels.forEach(p => {
  const g = geo[p.key];
  const W = PAD_L + g.w + PAD_R;
  const H = PAD_T + g.h + PAD_B;
  const cv = document.createElement('canvas');
  cv.width = W;
  cv.height = H;
  cv.style.left = (g.left - PAD_L) + 'px';
  cv.style.top = (g.top - PAD_T) + 'px';
  cv.style.width = W + 'px';
  cv.style.height = H + 'px';
  fig.appendChild(cv);

  new Chart(cv, {
    type: 'line',
    data: {
      datasets: [
        {
          data: stance.map((s, i) => ({ x: s, y: p.circ[i] })),
          order: 2,
          showLine: false,
          pointStyle: 'circle',
          pointRadius: 7,
          pointBackgroundColor: '#fff',
          pointBorderColor: '#000',
          pointBorderWidth: 1,
          clip: false,
          errSd: p.circSd,
          errDir: p.circDir,
          errColor: '#000'
        },
        {
          data: stance.map((s, i) => ({ x: s, y: p.diam[i] })),
          order: 1,
          showLine: true,
          borderColor: '#3c3c3c',
          borderWidth: 1,
          pointStyle: 'rectRot',
          pointRadius: 4,
          pointBackgroundColor: '#8c8c8c',
          pointBorderColor: '#2e2e2e',
          pointBorderWidth: 1,
          clip: false,
          errSd: p.diamSd,
          errDir: -p.circDir,
          errColor: '#a3a3a3'
        }
      ]
    },
    options: {
      responsive: false,
      animation: false,
      devicePixelRatio: 1,
      events: [],
      layout: { padding: { left: 0, top: PAD_T, right: PAD_R, bottom: 0 } },
      plugins: {
        legend: { display: false },
        tooltip: { enabled: false },
        panelDecor: { key: p.key }
      },
      scales: {
        x: {
          type: 'linear',
          min: 0,
          max: 100,
          afterFit: s => { s.height = PAD_B; },
          ticks: { stepSize: 20, padding: g.xGap - 7.2, maxRotation: 0, autoSkip: false },
          grid: { display: false, drawTicks: false },
          border: { display: false },
          title: {
            display: true,
            text: p.xTitle,
            font: { weight: 'bold', size: 12 },
            padding: { top: 0, bottom: PAD_B - 7.2 - g.tGap }
          }
        },
        y: {
          type: 'linear',
          min: p.axis[0],
          max: p.axis[1],
          afterFit: s => { s.width = PAD_L; },
          ticks: { stepSize: p.axis[2], padding: g.yGap - 8.7, crossAlign: 'center' },
          grid: {
            drawTicks: false,
            lineWidth: 1,
            color: c => (c.tick && c.tick.value === 0) ? '#000' : '#8c8c8c'
          },
          border: { display: false }
        }
      }
    },
    plugins: [panelDecor]
  });
});
</script>
</body>
</html>
